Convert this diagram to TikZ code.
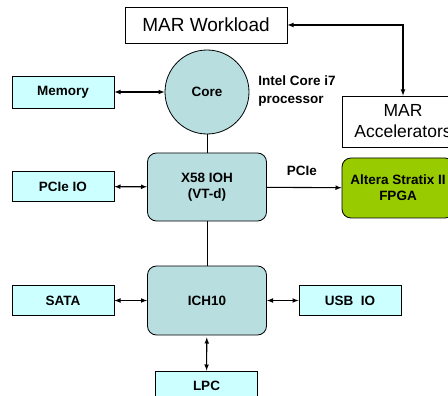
\documentclass[tikz,border=0pt]{standalone}
\usepackage{fontspec}
\setmainfont{Liberation Sans}
\usetikzlibrary{positioning,shapes,arrows}
\definecolor{iocyan}{RGB}{204,255,255}
\definecolor{hubteal}{RGB}{184,222,224}
\definecolor{fpgagreen}{RGB}{153,204,0}

\begin{document}
\begin{tikzpicture}
    [x=1pt,y=-1pt,>=latex,line width=1.1pt,
     every node/.style={draw, line width=0.8pt, inner sep=0pt, align=center, font=\bfseries\fontsize{13.5}{16}\selectfont},
     iobox/.style={fill=iocyan, minimum width=102pt, minimum height=30pt},
     hubbox/.style={fill=hubteal, rounded corners=9pt, minimum width=119pt, minimum height=68pt},
     marbox/.style={fill=white, font=\fontsize{19}{22}\selectfont}]
  \useasboundingbox (0,0) rectangle (448,396);
  \node[marbox, minimum width=162pt, minimum height=36pt] (work) at (206,25) {MAR Workload};
  \node[marbox, font=\fontsize{17.5}{21}\selectfont, minimum width=122pt, minimum height=51pt] (acc) at (403,121.5) {MAR\\Accelerators};
  \node[iobox, minimum height=32pt] (mem) at (63,92) {Memory};
  \node[circle, fill=hubteal, minimum size=84pt] (core) at (207,92) {Core};
  \node[draw=none, anchor=west, align=left, font=\bfseries\fontsize{13.5}{18}\selectfont] (intel) at (258,91) {Intel Core i7\\processor};
  \node[hubbox] (x58) at (207,187) {X58 IOH\\(VT-d)};
  \node[iobox] (pcieio) at (63,186.5) {PCIe IO};
  \node[fill=fpgagreen, rounded corners=9pt, minimum width=112pt, minimum height=60pt] (fpga) at (398,188) {Altera Stratix II\\FPGA};
  \node[draw=none] (pcie) at (302,171) {PCIe};
  \node[hubbox, minimum height=69pt] (ich) at (207,300.5) {ICH10};
  \node[iobox] (sata) at (63,300.5) {SATA};
  \node[iobox] (usb) at (350,300.5) {USB\ \ IO};
  \node[iobox] (lpc) at (206.5,386) {LPC};

  \draw[<->] (work.east) -| (acc.north);
  \draw[->] (x58) -- (fpga);

  \foreach \from/\to in {mem/core, pcieio/x58, sata/ich, ich/usb}
    \draw[<->] (\from) -- (\to);
  \draw[<->, shorten <=2pt] (ich) -- (lpc);

  \foreach \from/\to in {core/x58, x58/ich}
    \draw[line width=0.8pt] (\from) -- (\to);
\end{tikzpicture}
\end{document}
